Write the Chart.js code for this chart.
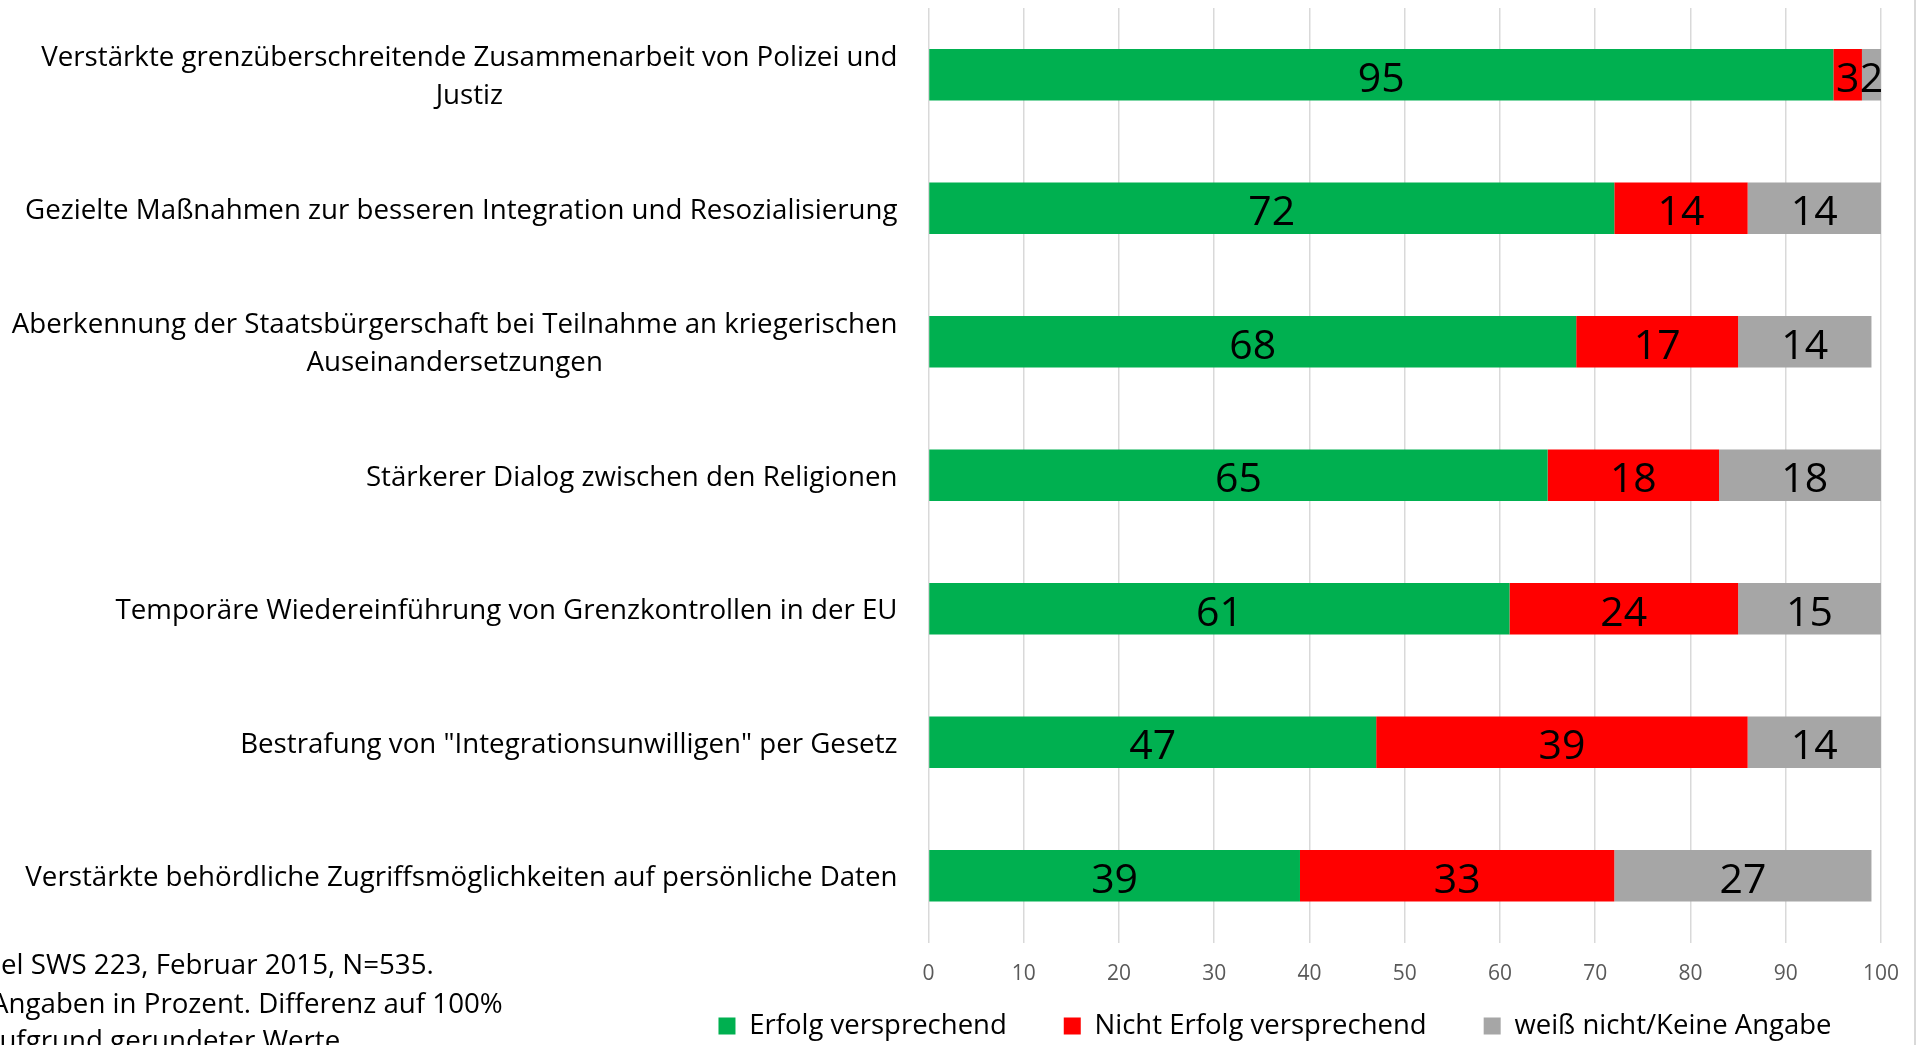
<!DOCTYPE html>
<html>
<head>
<meta charset="utf-8">
<script src="https://cdn.jsdelivr.net/npm/chart.js@4.4.1/dist/chart.umd.min.js"></script>
<style>
  body { margin: 0; overflow: hidden; background: #fff; font-family: "Open Sans", sans-serif; }
  #wrap { position: relative; width: 1918px; height: 1091px; }
  .note { position: absolute; font-size: 27.7px; line-height: 38px; color: #000; white-space: nowrap; }
  #frame { position: absolute; left: 1914px; top: 0; width: 2px; height: 1091px; background: #d9d9d9; }
</style>
</head>
<body>
<div id="wrap">
  <canvas id="chart"></canvas>
  <div id="frame"></div>
  <div class="note" style="left:1px; top:944px">el SWS 223, Februar 2015, N=535.</div>
  <div class="note" style="left:-9px; top:983px">Angaben in Prozent. Differenz auf 100%</div>
  <div class="note" style="left:-16px; top:1020px">aufgrund gerundeter Werte</div>
</div>
<script>
const categories = [
    ['Verstärkte grenzüberschreitende Zusammenarbeit von Polizei und', 'Justiz'],
    ['Gezielte Maßnahmen zur besseren Integration und Resozialisierung'],
    ['Aberkennung der Staatsbürgerschaft bei Teilnahme an kriegerischen', 'Auseinandersetzungen'],
    ['Stärkerer Dialog zwischen den Religionen'],
    ['Temporäre Wiedereinführung von Grenzkontrollen in der EU'],
    ['Bestrafung von "Integrationsunwilligen" per Gesetz'],
    ['Verstärkte behördliche Zugriffsmöglichkeiten auf persönliche Daten']
];
const erfolg = [95, 72, 68, 65, 61, 47, 39];
const nichtErfolg = [3, 14, 17, 18, 24, 39, 33];
const weissNicht = [2, 14, 14, 18, 15, 14, 27];
const seriesNames = ['Erfolg versprechend', 'Nicht Erfolg versprechend', 'weiß nicht/Keine Angabe'];
const seriesColors = ['#00b050', '#ff0000', '#a6a6a6'];
const xMin = 0, xMax = 100, xStep = 10;

const FONT = '"Open Sans", sans-serif';
const PLOT_LEFT = 928.5;
const LEGEND_CENTER = 1275;
const LEGEND_TEXT_Y = 1026;

// category labels: block right-aligned to the axis, lines centred in the block
const categoryLabels = {
    id: 'categoryLabels',
    afterDraw(chart) {
        const ctx = chart.ctx;
        const yScale = chart.scales.y;
        const right = chart.chartArea.left - 31;
        const lineH = 38;
        ctx.save();
        ctx.font = '27.7px ' + FONT;
        ctx.fillStyle = '#000';
        ctx.textAlign = 'center';
        ctx.textBaseline = 'middle';
        chart.data.labels.forEach((lines, i) => {
            const cy = yScale.getPixelForTick(i) + 2.5;
            const w = Math.max(...lines.map(l => ctx.measureText(l).width));
            const cx = right - w / 2;
            lines.forEach((line, j) => {
                ctx.fillText(line, cx, cy + (j - (lines.length - 1) / 2) * lineH);
            });
        });
        ctx.restore();
    }
};

// value labels in the middle of every segment
const valueLabels = {
    id: 'valueLabels',
    afterDatasetsDraw(chart) {
        const ctx = chart.ctx;
        ctx.save();
        ctx.font = '41px ' + FONT;
        ctx.fillStyle = '#000';
        ctx.textAlign = 'center';
        ctx.textBaseline = 'middle';
        chart.data.datasets.forEach((ds, di) => {
            chart.getDatasetMeta(di).data.forEach((bar, i) => {
                const p = bar.getCenterPoint();
                ctx.fillText(String(ds.data[i]), p.x, p.y + 5.5);
            });
        });
        ctx.restore();
    }
};

// put the legend where it sits in the original
const legendShift = {
    id: 'legendShift',
    afterLayout(chart) {
        const lg = chart.legend;
        if (!lg) return;
        const dx = LEGEND_CENTER - (lg.left + lg.right) / 2;
        lg.left += dx;
        lg.right += dx;
        const lab = lg.options.labels;
        const newTop = LEGEND_TEXT_Y - lab.padding - lab.font.size / 2;
        const h = lg.bottom - lg.top;
        lg.top = newTop;
        lg.bottom = newTop + h;
    }
};

const ctx = document.getElementById('chart').getContext('2d');
new Chart(ctx, {
    type: 'bar',
    data: {
        labels: categories,
        datasets: [erfolg, nichtErfolg, weissNicht].map((d, i) => ({
            label: seriesNames[i],
            data: d,
            backgroundColor: seriesColors[i],
            borderWidth: 0,
            categoryPercentage: 1,
            barPercentage: 0.385
        }))
    },
    options: {
        indexAxis: 'y',
        responsive: true,
        maintainAspectRatio: false,
        animation: false,
        devicePixelRatio: 1,
        layout: { padding: { left: 0, right: 36, top: 8, bottom: 0 } },
        plugins: {
            tooltip: { enabled: false },
            legend: {
                position: 'bottom',
                labels: {
                    font: { family: FONT, size: 27.5 },
                    color: '#000',
                    boxWidth: 17,
                    boxHeight: 17,
                    padding: 57
                }
            }
        },
        scales: {
            x: {
                stacked: true,
                min: xMin,
                max: xMax,
                ticks: {
                    stepSize: xStep,
                    color: '#595959',
                    font: { family: FONT, size: 21 },
                    padding: 19
                },
                grid: { color: '#d9d9d9', lineWidth: 1.5, drawTicks: false },
                border: { display: false },
                afterFit: (scale) => { scale.height = 54; }
            },
            y: {
                stacked: true,
                ticks: { display: false },
                grid: { display: false },
                border: { display: false },
                afterFit: (scale) => { scale.width = PLOT_LEFT; }
            }
        }
    },
    plugins: [categoryLabels, valueLabels, legendShift]
});
</script>
</body>
</html>
